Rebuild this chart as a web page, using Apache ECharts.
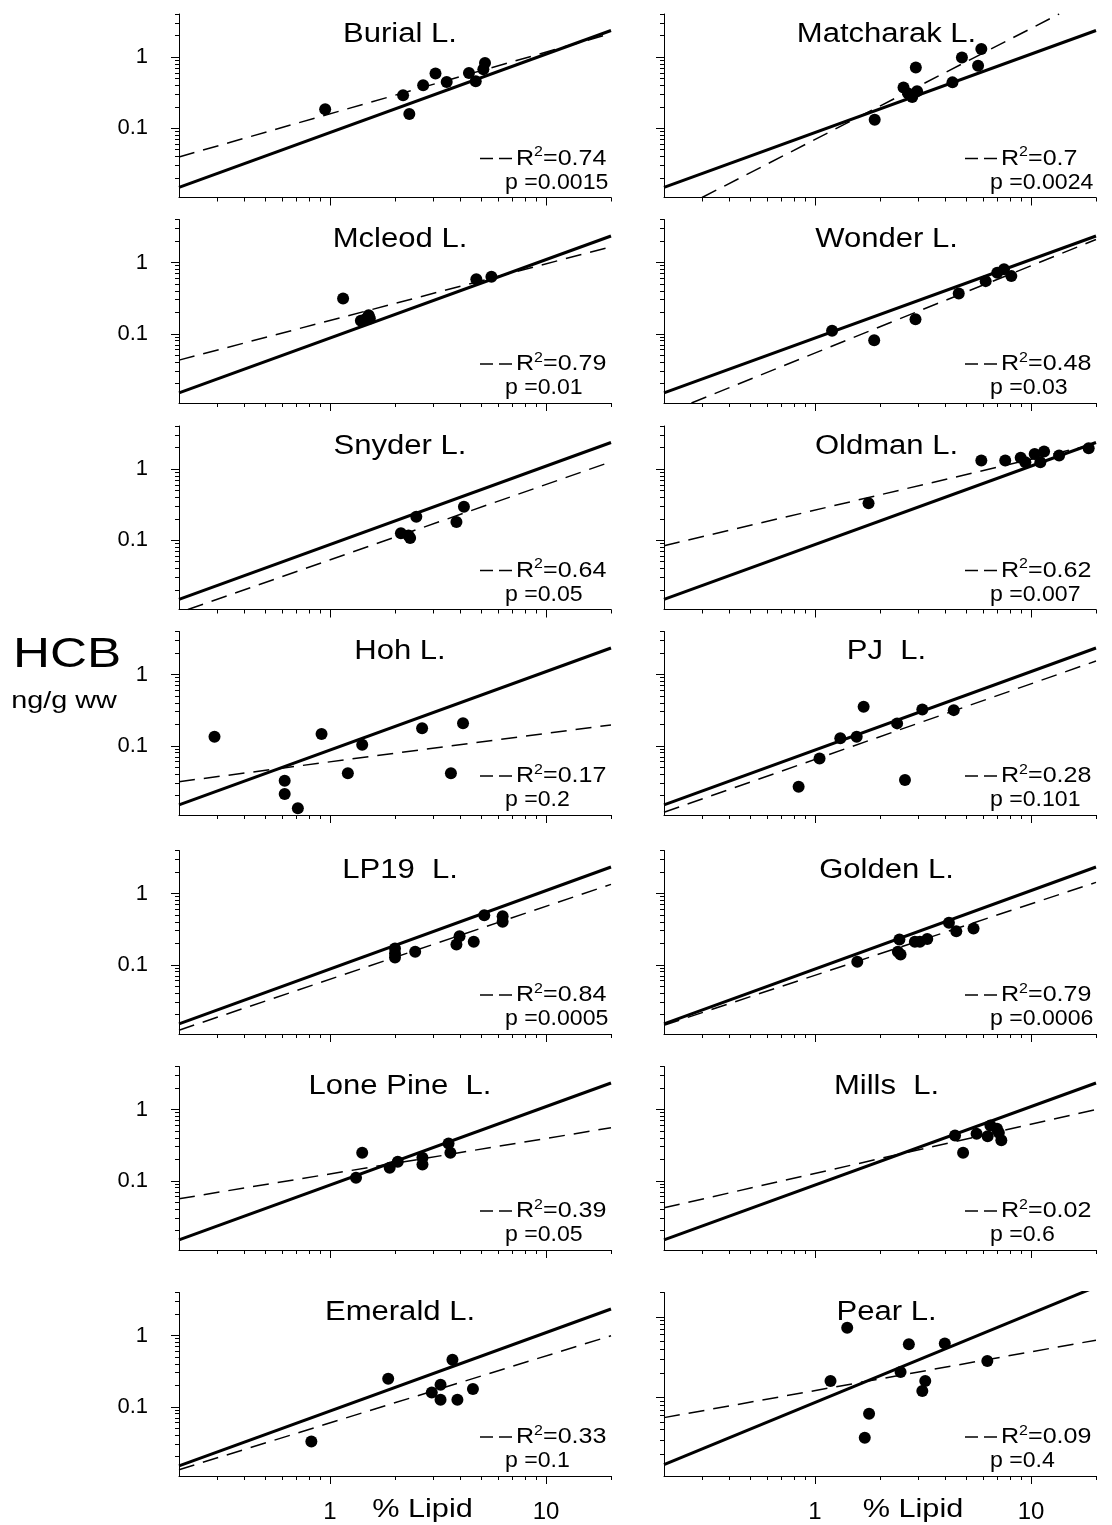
<!DOCTYPE html>
<html><head><meta charset="utf-8">
<script src="https://cdn.jsdelivr.net/npm/echarts@6/dist/echarts.min.js"></script>
<style>html,body{margin:0;padding:0;background:#fff}#c{width:1112px;height:1525px}</style>
</head><body><div id="c"></div>
<script>
// ---------------- DATA ----------------
const lakeNames = ['Burial L.', 'Matcharak L.', 'Mcleod L.', 'Wonder L.', 'Snyder L.', 'Oldman L.', 'Hoh L.', 'PJ  L.', 'LP19  L.', 'Golden L.', 'Lone Pine  L.', 'Mills  L.', 'Emerald L.', 'Pear L.'];
const r2Values = ['0.74', '0.7', '0.79', '0.48', '0.64', '0.62', '0.17', '0.28', '0.84', '0.79', '0.39', '0.02', '0.33', '0.09'];
const pValues = ['0.0015', '0.0024', '0.01', '0.03', '0.05', '0.007', '0.2', '0.101', '0.0005', '0.0006', '0.05', '0.6', '0.1', '0.4'];

// points: [% lipid, HCB ng/g ww]
const burialPts = [[0.95,0.185],[2.18,0.29],[2.33,0.159],[2.70,0.40],[3.08,0.585],[3.47,0.446],[4.40,0.597],[4.73,0.457],[5.22,0.824],[5.13,0.67]];
const matcharakPts = [[1.89,0.132],[2.57,0.372],[2.70,0.307],[2.82,0.275],[2.97,0.33],[2.93,0.71],[4.33,0.44],[4.79,0.98],[5.69,0.75],[5.89,1.29]];
const mcleodPts = [[1.15,0.313],[1.39,0.152],[1.45,0.158],[1.51,0.182],[1.53,0.164],[4.76,0.583],[5.59,0.628]];
const wonderPts = [[1.20,0.11],[1.88,0.081],[2.92,0.16],[4.63,0.367],[6.17,0.547],[6.98,0.715],[7.5,0.805],[8.11,0.643]];
const snyderPts = [[2.13,0.125],[2.31,0.117],[2.35,0.108],[2.51,0.214],[3.85,0.18],[4.17,0.295]];
const oldmanPts = [[1.77,0.33],[5.89,1.31],[7.6,1.31],[8.96,1.43],[9.42,1.24],[10.4,1.62],[11.5,1.75],[11.05,1.24],[13.5,1.54],[18.5,1.95]];
const hohPts = [[0.292,0.134],[0.617,0.0324],[0.617,0.0211],[0.71,0.0133],[0.914,0.146],[1.21,0.0411],[1.41,0.103],[2.67,0.176],[3.63,0.0411],[4.13,0.207]];
const pjPts = [[0.84,0.0266],[1.05,0.0664],[1.31,0.127],[1.56,0.134],[1.68,0.352],[2.40,0.206],[2.61,0.033],[3.14,0.323],[4.39,0.316]];
const lp19Pts = [[2.0,0.169],[2.0,0.144],[2.0,0.126],[2.48,0.152],[3.85,0.193],[3.98,0.252],[4.63,0.21],[5.18,0.496],[6.3,0.48],[6.3,0.4]];
const goldenPts = [[1.57,0.11],[2.46,0.226],[2.42,0.152],[2.49,0.139],[2.9,0.21],[3.06,0.21],[3.31,0.229],[4.17,0.387],[4.51,0.296],[5.42,0.323]];
const lonePinePts = [[1.32,0.11],[1.41,0.247],[1.89,0.152],[2.06,0.185],[2.68,0.21],[2.68,0.169],[3.54,0.334],[3.61,0.247]];
const millsPts = [[4.45,0.432],[4.85,0.247],[5.6,0.456],[6.3,0.42],[6.49,0.597],[6.96,0.536],[7.1,0.471],[7.29,0.371]];
const emeraldPts = [[0.82,0.0326],[1.86,0.247],[2.96,0.159],[3.25,0.204],[3.25,0.125],[3.69,0.456],[3.89,0.125],[4.59,0.177]];
const pearPts = [[1.18,0.161],[1.41,0.73],[1.70,0.0319],[1.78,0.0633],[2.49,0.208],[2.72,0.458],[3.14,0.121],[3.24,0.161],[3.99,0.468],[6.28,0.284]];

// per-lake regression (dashed) line end points
const burialFit = [[0.2,0.0396],[20,2.13]];
const matcharakFit = [[0.3,0.0107],[13.5,4]];
const mcleodFit = [[0.2,0.0427],[20,1.66]];
const wonderFit = [[0.268,0.0107],[20,2.1]];
const snyderFit = [[0.22,0.0107],[20,1.26]];
const oldmanFit = [[0.2,0.084],[20,2.24]];
const hohFit = [[0.2,0.0314],[20,0.196]];
const pjFit = [[0.2,0.0117],[20,1.54]];
const lp19Fit = [[0.2,0.0121],[20,1.34]];
const goldenFit = [[0.2,0.0142],[20,1.43]];
const lonePineFit = [[0.2,0.056],[20,0.553]];
const millsFit = [[0.2,0.0418],[20,1.0]];
const emeraldFit = [[0.2,0.0131],[20,0.99]];
const pearFit = [[0.2,0.0565],[20,0.514]];

// common reference (solid) line
const referenceLine = [[0.2,0.0148],[20,2.35]];

// axes
const xRange = [0.2, 20];
const yRange = [0.0107, 4];
const yRangePear = [0.0107, 2];
const xMajorTicks = [1, 10];
const xMinorTicks = [0.3,0.4,0.5,0.6,0.7,0.8,0.9,2,3,4,5,6,7,8,9,20];
const yMajorTicks = [0.1, 1];
const yMinorTicks = [0.02,0.03,0.04,0.05,0.06,0.07,0.08,0.09,0.2,0.3,0.4,0.5,0.6,0.7,0.8,0.9,2,3,4];
const yMinorTicksPear = [0.02,0.03,0.04,0.05,0.06,0.07,0.08,0.09,0.2,0.3,0.4,0.5,0.6,0.7,0.8,0.9,2];

const allPoints = [burialPts, matcharakPts, mcleodPts, wonderPts, snyderPts, oldmanPts, hohPts, pjPts, lp19Pts, goldenPts, lonePinePts, millsPts, emeraldPts, pearPts];
const allFits = [burialFit, matcharakFit, mcleodFit, wonderFit, snyderFit, oldmanFit, hohFit, pjFit, lp19Fit, goldenFit, lonePineFit, millsFit, emeraldFit, pearFit];

// ---------------- LAYOUT ----------------
const FONT = '"Liberation Sans", Arial, Helvetica, sans-serif';
const colLeft = [179, 664];
const gridW = 432;
const rowTop = [14, 219.5, 426, 631.5, 850.5, 1066.5, 1292.5];
const gridH = 183.5;
const titleCX = [400, 886.5];

const grids = [], xAxes = [], yAxes = [], series = [], graphics = [];
const fmt = v => String(Number((+v).toPrecision(3)));
const tickStyle = {color: '#000', width: 1};

for (let i = 0; i < lakeNames.length; i++) {
  const col = i % 2, row = Math.floor(i / 2);
  const isPear = i === 13;
  const yr = isPear ? yRangePear : yRange;
  grids.push({left: colLeft[col], top: rowTop[row], width: gridW, height: gridH, containLabel: false});
  // main x axis (minor ticks)
  xAxes.push({type: 'log', logBase: 10, gridIndex: i, min: xRange[0], max: xRange[1], position: 'bottom',
    axisLine: {show: true, onZero: false, lineStyle: {color: '#000', width: 1}},
    axisTick: {show: true, customValues: xMinorTicks, length: 4, lineStyle: tickStyle},
    axisLabel: {show: false}, splitLine: {show: false}});
  // major x ticks
  xAxes.push({type: 'log', logBase: 10, gridIndex: i, min: xRange[0], max: xRange[1], position: 'bottom',
    axisLine: {show: false, onZero: false},
    axisTick: {show: true, customValues: xMajorTicks, length: 8, lineStyle: tickStyle},
    axisLabel: {show: row === 6, customValues: xMajorTicks, formatter: fmt, fontSize: 24, fontFamily: FONT, color: '#000', margin: 24},
    splitLine: {show: false}});
  yAxes.push({type: 'log', logBase: 10, gridIndex: i, min: yr[0], max: yr[1], position: 'left',
    axisLine: {show: true, onZero: false, lineStyle: {color: '#000', width: 1}},
    axisTick: {show: true, customValues: isPear ? yMinorTicksPear : yMinorTicks, length: 4, lineStyle: tickStyle},
    axisLabel: {show: false}, splitLine: {show: false}});
  yAxes.push({type: 'log', logBase: 10, gridIndex: i, min: yr[0], max: yr[1], position: 'left',
    axisLine: {show: false, onZero: false},
    axisTick: {show: true, customValues: yMajorTicks, length: 8, lineStyle: tickStyle},
    axisLabel: {show: col === 0, customValues: yMajorTicks, formatter: fmt, fontSize: 22, fontFamily: FONT, color: '#000', margin: 31},
    splitLine: {show: false}});

  const ax = 2 * i;
  series.push({type: 'line', xAxisIndex: ax, yAxisIndex: ax, data: referenceLine, symbol: 'none', clip: true,
    lineStyle: {color: '#000', width: 3}, z: 2, silent: true});
  series.push({type: 'line', xAxisIndex: ax, yAxisIndex: ax, data: allFits[i], symbol: 'none', clip: true,
    lineStyle: {color: '#000', width: 1.5, type: [16, 9]}, z: 2, silent: true});
  series.push({type: 'scatter', xAxisIndex: ax, yAxisIndex: ax, data: allPoints[i], symbol: 'circle', symbolSize: 12,
    itemStyle: {color: '#000', opacity: 1}, z: 3, silent: true});

  const right = colLeft[col] + gridW;
  const bottom = rowTop[row] + gridH;
  graphics.push({type: 'text', x: titleCX[col], y: rowTop[row] + 20.5, scaleX: 1.15, silent: true,
    style: {text: lakeNames[i], font: '27px ' + FONT, fill: '#000', textAlign: 'center', textVerticalAlign: 'middle'}});
  // dashed legend sample
  graphics.push({type: 'line', silent: true, shape: {x1: right - 131, y1: bottom - 39, x2: right - 118, y2: bottom - 39},
    style: {stroke: '#000', lineWidth: 1.5}});
  graphics.push({type: 'line', silent: true, shape: {x1: right - 112, y1: bottom - 39, x2: right - 99, y2: bottom - 39},
    style: {stroke: '#000', lineWidth: 1.5}});
  graphics.push({type: 'text', x: right - 95, y: bottom - 39, scaleX: 1.14, silent: true,
    style: {text: '{a|R}{s|2}{a|=' + r2Values[i] + '}', fill: '#000', textAlign: 'left', textVerticalAlign: 'middle',
      rich: {a: {fontSize: 22, fontFamily: FONT, lineHeight: 26, fill: '#000'},
             s: {fontSize: 14, fontFamily: FONT, lineHeight: 14, verticalAlign: 'top', fill: '#000'}}}});
  graphics.push({type: 'text', x: right - 106, y: bottom - 15, scaleX: 1.05, silent: true,
    style: {text: 'p =' + pValues[i], font: '22px ' + FONT, fill: '#000', textAlign: 'left', textVerticalAlign: 'middle'}});
}

graphics.push({type: 'text', x: 67, y: 655, scaleX: 1.22, silent: true,
  style: {text: 'HCB', font: '42px ' + FONT, fill: '#000', textAlign: 'center', textVerticalAlign: 'middle'}});
graphics.push({type: 'text', x: 64, y: 701, scaleX: 1.2, silent: true,
  style: {text: 'ng/g ww', font: '24px ' + FONT, fill: '#000', textAlign: 'center', textVerticalAlign: 'middle'}});
graphics.push({type: 'text', x: 422.5, y: 1510, scaleX: 1.18, silent: true,
  style: {text: '% Lipid', font: '26px ' + FONT, fill: '#000', textAlign: 'center', textVerticalAlign: 'middle'}});
graphics.push({type: 'text', x: 913, y: 1510, scaleX: 1.18, silent: true,
  style: {text: '% Lipid', font: '26px ' + FONT, fill: '#000', textAlign: 'center', textVerticalAlign: 'middle'}});

const chart = echarts.init(document.getElementById('c'), null, {renderer: 'canvas'});
chart.setOption({
  animation: false,
  backgroundColor: '#fff',
  grid: grids, xAxis: xAxes, yAxis: yAxes, series: series,
  graphic: {elements: graphics}
});
</script></body></html>
